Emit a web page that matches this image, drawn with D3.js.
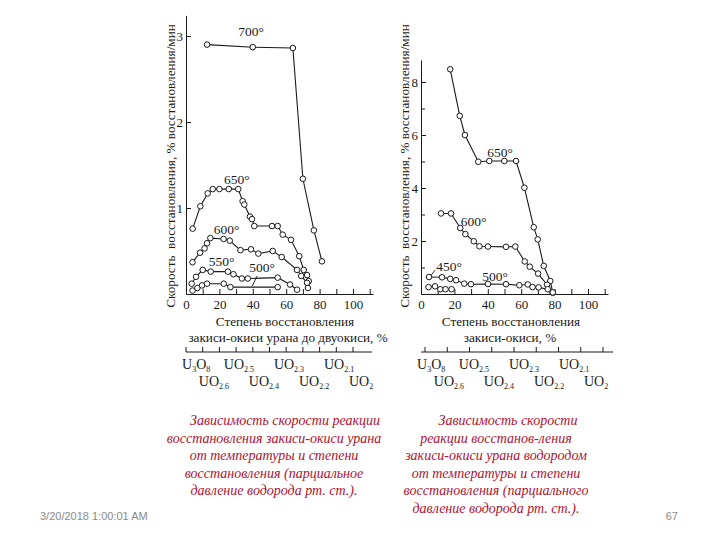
<!DOCTYPE html>
<html><head><meta charset="utf-8">
<script src="https://cdn.jsdelivr.net/npm/d3@7"></script>
<style>body{margin:0;background:#fff}svg{display:block}
svg text{font-family:'Liberation Serif','Tinos','DejaVu Serif','Noto Serif',serif}
svg text.sans{font-family:'Liberation Sans','Arimo','DejaVu Sans',sans-serif}
</style>
</head><body>
<svg id="c" width="720" height="540"></svg>
<script>
// ---------- data ----------
const xTickLabels = [0, 20, 40, 60, 80, 100];
const xTickAll = [0,10,20,30,40,50,60,70,80,90,100,110];
const leftYTicks = [1, 2, 3];
const rightYTicks = [2, 4, 6, 8];
const rightYMinor = [1, 3, 5, 7];

// left panel: reduction degree (%) vs rate
const L700 = [[12.6,2.90],[40,2.87],[64,2.86],[70,1.34],[76.6,0.74],[81.4,0.38]];
const L650 = [[4.0,0.76],[8.6,1.02],[13.0,1.17],[16.0,1.22],[20.0,1.22],[25.6,1.22],[31.3,1.22],[33.9,1.08],[34.9,1.04],[38.3,0.90],[39.5,0.87],[40.9,0.79],[51.5,0.79],[54.9,0.79],[57.9,0.69],[62.9,0.63],[67.8,0.44],[70.5,0.28],[72.5,0.22],[73.5,0.15]];
const L600 = [[3.9,0.37],[8.4,0.48],[11.1,0.53],[12.6,0.59],[14.6,0.65],[22.5,0.64],[26.2,0.62],[32.6,0.51],[38.9,0.52],[43.3,0.47],[51.9,0.50],[57.3,0.43],[66.5,0.28],[69.0,0.21],[72.5,0.13],[73.0,0.07]];
const L550 = [[3.4,0.12],[6.0,0.20],[10.0,0.28],[14.8,0.26],[25.1,0.26],[28.4,0.23],[33.5,0.18],[37.0,0.18],[54.9,0.19],[62.3,0.11],[66.5,0.05]];
const L500 = [[3.9,0.04],[6.8,0.07],[9.6,0.10],[12.6,0.12],[22.6,0.12],[26.6,0.08],[54.9,0.08]];

// right panel
const R650 = [[17.5,8.48],[23.2,6.72],[26.3,6.0],[34.3,4.99],[40.9,5.02],[49.9,5.02],[56.9,5.02],[61.9,4.01],[67.5,2.52],[69.9,2.06],[73.5,1.06],[77.4,0.49],[78.9,0.05]];
const R600 = [[12.0,3.04],[18.0,3.04],[23.5,2.49],[26.6,2.26],[31.6,1.99],[35.0,1.80],[40.1,1.79],[50.9,1.78],[56.5,1.79],[62.1,1.23],[65.1,1.03],[70.1,0.77],[75.5,0.35],[78.9,0.05]];
const R500 = [[4.8,0.64],[12.6,0.63],[17.5,0.57],[21.0,0.52],[25.9,0.39],[29.9,0.37],[40.1,0.38],[50.9,0.37],[58.9,0.33],[63.9,0.36],[66.8,0.26],[70.4,0.25],[75.9,0.18],[78.9,0.06]];
const R450 = [[4.5,0.26],[8.4,0.29],[11.6,0.18],[14.7,0.18],[18.3,0.18]];

// composition scale labels
const compNames = [["U","3","O","8"],["UO","2.6"],["UO","2.5"],["UO","2.4"],["UO","2.3"],["UO","2.2"],["UO","2.1"],["UO","2"]];
const compOU = [2.667, 2.6, 2.5, 2.4, 2.3, 2.2, 2.1, 2.0];
const compRow = [0, 1, 0, 1, 0, 1, 0, 1];

const yTitle = "Скорость\u00a0 восстановления, % восстановления/мин";
const xTitleL = ["Степень восстановления", "закиси-окиси урана до двуокиси, %"];
const xTitleR = ["Степень восстановления", "закиси-окиси, %"];
const captionL = ["Зависимость скорости реакции","восстановления закиси-окиси урана","от температуры и степени","восстановления (парциальное","давление водорода рт. ст.)."];
const captionR = ["Зависимость скорости","реакции восстанов-ления","закиси-окиси урана водородом","от температуры и степени","восстановления (парциального","давление водорода рт. ст.)."];
const footerDate = "3/20/2018 1:00:01 AM";
const pageNum = "67";

// ---------- drawing ----------
const svg = d3.select('#c');
const ink = '#1a1a1a';

function panel(p){
  const x = d3.scaleLinear().domain([0, 112]).range([p.x0, p.x0 + 112 * 1.67]);
  const y = d3.scaleLinear().domain([0, p.yTop]).range([294, 294 - p.yTop * p.ppu]);
  const g = svg.append('g');

  const xa = g.append('g').attr('transform', `translate(0,${y(0)})`)
    .call(d3.axisBottom(x).tickValues(xTickAll).tickSizeInner(-5).tickSizeOuter(0).tickPadding(5)
      .tickFormat(d => xTickLabels.includes(d) ? d : ''));
  const ya = g.append('g').attr('transform', `translate(${x(0)},0)`)
    .call(d3.axisLeft(y).tickValues(p.yTicks).tickSizeInner(-5).tickSizeOuter(0).tickPadding(3).tickFormat(d3.format('d')));
  if (p.yMinor) {
    g.append('g').attr('transform', `translate(${x(0)},0)`)
      .call(d3.axisLeft(y).tickValues(p.yMinor).tickSizeInner(-4).tickSizeOuter(0).tickFormat(''))
      .select('.domain').remove();
  }
  g.selectAll('g').attr('font-family', null).attr('font-size', null);
  g.selectAll('.domain, .tick line').attr('stroke', ink).attr('stroke-width', 1);
  g.selectAll('.tick text').style('font-size', '13px').attr('fill', ink);
  xa.selectAll('.tick text').attr('dy', '0.75em');

  const line = d3.line().x(d => x(d[0])).y(d => y(d[1]));
  p.series.forEach(s => {
    g.append('path').datum(s).attr('d', line).attr('fill', 'none').attr('stroke', ink).attr('stroke-width', 1.1);
  });
  p.series.forEach(s => {
    g.selectAll(null).data(s).enter().append('circle')
      .attr('cx', d => x(d[0])).attr('cy', d => y(d[1])).attr('r', 2.8)
      .attr('fill', '#fff').attr('stroke', ink).attr('stroke-width', 1);
  });
  p.labels.forEach(l => {
    g.append('text').attr('x', x(l[1])).attr('y', y(l[2])).attr('text-anchor', 'middle')
      .style('font-size', '13.5px').attr('fill', ink).text(l[0]);
  });
  p.leaders.forEach(l => {
    g.append('line').attr('x1', x(l[0])).attr('y1', y(l[1])).attr('x2', x(l[2])).attr('y2', y(l[3]))
      .attr('stroke', ink).attr('stroke-width', 0.9);
  });

  g.append('text').attr('transform', `translate(${p.yTitleX},166) rotate(-90)`)
    .attr('text-anchor', 'middle').style('font-size', '13.2px').attr('fill', ink)
    .text(yTitle);
  p.xTitle.forEach((t, i) => {
    g.append('text').attr('x', p.xTitleC[i]).attr('y', 326 + i * 16).attr('text-anchor', 'middle')
      .style('font-size', '13.2px').attr('fill', ink).text(t);
  });
  const cy = 352;
  g.append('line').attr('x1', x(0)).attr('x2', p.compEnd).attr('y1', cy).attr('y2', cy).attr('stroke', ink).attr('stroke-width', 1.2);
  const ct = d3.scaleLinear().domain([0, p.compTickN - 1]).range(p.compTickRange);
  d3.range(p.compTickN).forEach(i => {
    g.append('line').attr('x1', ct(i)).attr('x2', ct(i)).attr('y1', cy).attr('y2', cy - 5).attr('stroke', ink).attr('stroke-width', 1);
  });
  compNames.forEach((n, i) => {
    const pct = (2.667 - compOU[i]) / 0.667 * 100;
    const t = g.append('text').attr('x', x(pct) - 4).attr('y', compRow[i] ? 386 : 369)
      .style('font-size', '14px').attr('fill', ink);
    t.append('tspan').text(n[0]);
    t.append('tspan').style('font-size', '8px').attr('dy', 3).text(n[1]);
    if (n[2]) {
      t.append('tspan').attr('dy', -3).text(n[2]);
      t.append('tspan').style('font-size', '8px').attr('dy', 3).text(n[3]);
    }
  });
}

panel({
  x0: 186, yTop: 3.24, ppu: 86, yTicks: leftYTicks, yMinor: null,
  series: [L700, L650, L600, L550, L500],
  labels: [["700°", 38.9, 3.0], ["650°", 30.5, 1.28], ["600°", 24.3, 0.70], ["550°", 21.3, 0.33], ["500°", 45.5, 0.26]],
  leaders: [[42.6, 0.21, 39.6, 0.09]],
  yTitleX: 175, xTitle: xTitleL, xTitleC: [285, 288],
  compEnd: 372, compTickN: 11, compTickRange: [186, 353]
});
panel({
  x0: 421, yTop: 8.83, ppu: 26.5, yTicks: rightYTicks, yMinor: rightYMinor,
  series: [R650, R600, R500, R450],
  labels: [["650°", 47.3, 5.17], ["600°", 31.5, 2.57], ["450°", 16.8, 0.87], ["500°", 44.3, 0.49]],
  leaders: [[8.4, 0.90, 6.0, 0.70]],
  yTitleX: 409, xTitle: xTitleR, xTitleC: [511, 510],
  compEnd: 613, compTickN: 9, compTickRange: [425, 603]
});

const capColor = '#b0122e';
captionL.forEach((t, i) => {
  svg.append('text').attr('x', i === 0 ? 285 : 274).attr('y', 425 + i * 17.5).attr('text-anchor', 'middle')
    .style('font-style', 'italic').style('font-size', '14px').attr('fill', capColor).text(t);
});
captionR.forEach((t, i) => {
  svg.append('text').attr('x', i === 0 ? 508 : 496).attr('y', 425 + i * 17.5).attr('text-anchor', 'middle')
    .style('font-style', 'italic').style('font-size', '14px').attr('fill', capColor).text(t);
});

svg.append('text').attr('class', 'sans').attr('x', 40).attr('y', 520)
  .style('font-size', '11px').attr('fill', '#8a8a8a').text(footerDate);
svg.append('text').attr('class', 'sans').attr('x', 678).attr('y', 520).attr('text-anchor', 'end')
  .style('font-size', '11px').attr('fill', '#8a8a8a').text(pageNum);
</script>
</body></html>
